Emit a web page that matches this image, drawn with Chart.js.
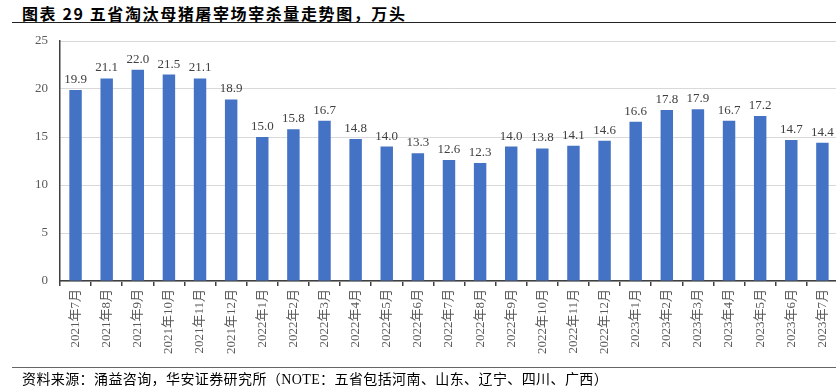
<!DOCTYPE html>
<html>
<head>
<meta charset="utf-8">
<script src="https://cdn.jsdelivr.net/npm/chart.js@4"></script>
<style>
  html, body { margin: 0; padding: 0; width: 836px; height: 388px; overflow: hidden; background: #fff; }
  #title { position: absolute; left: 22px; top: 1px; font: bold 16px "Noto Sans CJK SC", sans-serif; letter-spacing: 1.6px; color: #000; white-space: nowrap; }
  #topline { position: absolute; left: 12px; top: 22px; width: 830px; height: 0; border-top: 1.5px solid #222; }
  #botline { position: absolute; left: 12px; top: 367px; width: 830px; height: 0; border-top: 1px solid #666; }
  #source { position: absolute; left: 22px; top: 368px; font: 14px "Liberation Serif", "Noto Sans CJK SC", serif; letter-spacing: 0.4px; color: #000; white-space: nowrap; }
  #wrap { position: absolute; left: 0; top: 0; width: 841px; height: 388px; }
</style>
</head>
<body>
<div id="title">图表 29 五省淘汰母猪屠宰场宰杀量走势图，万头</div>
<div id="topline"></div>
<div id="wrap"><canvas id="chart" width="841" height="388"></canvas></div>
<div id="botline"></div>
<div id="source">资料来源：涌益咨询，华安证券研究所（NOTE：五省包括河南、山东、辽宁、四川、广西）</div>
<script>
// months
const months = [
  "2021年7月", "2021年8月", "2021年9月", "2021年10月", "2021年11月", "2021年12月",
  "2022年1月", "2022年2月", "2022年3月", "2022年4月", "2022年5月", "2022年6月",
  "2022年7月", "2022年8月", "2022年9月", "2022年10月", "2022年11月", "2022年12月",
  "2023年1月", "2023年2月", "2023年3月", "2023年4月", "2023年5月", "2023年6月", "2023年7月"
];
// slaughter volume, 10k head
const volume = [
  19.9, 21.1, 22.0, 21.5, 21.1, 18.9,
  15.0, 15.8, 16.7, 14.8, 14.0, 13.3,
  12.6, 12.3, 14.0, 13.8, 14.1, 14.6,
  16.6, 17.8, 17.9, 16.7, 17.2, 14.7, 14.4
];
const yTicks = [0, 5, 10, 15, 20, 25];

const serif = '"Liberation Serif", "Noto Sans CJK SC", serif';

// value labels above bars
const barLabels = {
  id: "barLabels",
  afterDatasetsDraw(chart) {
    const ctx = chart.ctx;
    const meta = chart.getDatasetMeta(0);
    ctx.save();
    ctx.font = "13px " + serif;
    ctx.fillStyle = "#404040";
    ctx.textAlign = "center";
    ctx.textBaseline = "bottom";
    meta.data.forEach((bar, i) => {
      ctx.fillText(volume[i].toFixed(1), bar.x, bar.y - 4);
    });
    ctx.restore();
  }
};

new Chart(document.getElementById("chart"), {
  type: "bar",
  data: {
    labels: months,
    datasets: [{
      data: volume,
      backgroundColor: "#4472C4",
      barPercentage: 0.4,
      categoryPercentage: 1.0
    }]
  },
  options: {
    responsive: false,
    animation: false,
    layout: { padding: { top: 41, left: 0, right: 0, bottom: 0 } },
    plugins: { legend: { display: false }, tooltip: { enabled: false } },
    scales: {
      x: {
        afterFit: (scale) => { scale.height = 107; },
        grid: { offset: true, drawOnChartArea: false, drawTicks: true, tickLength: 5, color: "#404040", lineWidth: 1.5 },
        border: { color: "#404040", width: 1.5 },
        ticks: {
          minRotation: 90, maxRotation: 90, autoSkip: false,
          font: { family: serif, size: 13 }, color: "#595959", padding: 3
        }
      },
      y: {
        min: 0, max: 25,
        afterFit: (scale) => { scale.width = 60; },
        afterBuildTicks: (scale) => { scale.ticks = yTicks.map(v => ({ value: v })); },
        grid: { color: "#d9d9d9", drawTicks: false },
        border: { color: "#404040", width: 1.5 },
        ticks: { font: { family: serif, size: 13 }, color: "#595959", padding: 12 }
      }
    }
  },
  plugins: [barLabels]
});
</script>
</body>
</html>
